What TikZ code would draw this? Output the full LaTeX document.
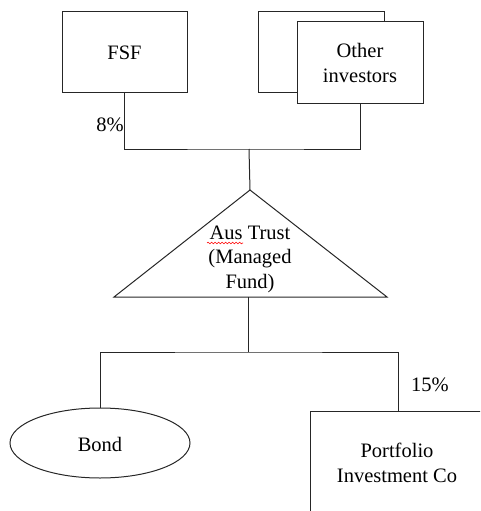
\documentclass[tikz,border=0pt]{standalone}
\usepackage{fontspec}
\setmainfont{Liberation Serif}
\usetikzlibrary{shapes.geometric,decorations.pathmorphing}
\tikzset{
  ln/.style={line width=1pt, draw=black!85},
  boxnode/.style={ln, fill=white, rectangle, inner sep=0pt},
  txt/.style={align=center, inner sep=0pt, font=\fontsize{20.5}{24.5}\selectfont},
}
\begin{document}
\begin{tikzpicture}[x=1pt,y=-1pt]
\useasboundingbox (0,0) rectangle (480,511);
\clip (0,0) rectangle (480,511);
% top boxes
\node[boxnode, minimum width=125pt, minimum height=80pt] (fsf) at (124.5,52) {};
\node[txt] (fsft) at (124.5,53) {FSF};
\node[boxnode, minimum width=126pt, minimum height=80pt] (oback) at (321,52) {};
\node[boxnode, minimum width=126pt, minimum height=81pt] (oth) at (360,62.5) {};
\node[txt] (otht) at (360,63) {Other\\investors};
% connectors top
\coordinate (j1) at (249,149);
\draw[ln] (fsf.south) |- (j1) -| (oth.south);
\node[txt, anchor=east] (p8) at (124,125) {8\%};
% triangle
\coordinate (apex) at (250,190);
\coordinate (bl) at (114,297);
\coordinate (br) at (387,297);
\draw[ln] (apex) -- (bl) -- (br) -- cycle;
\draw[ln] (j1) -- (apex);
\node[txt] (trust) at (250,259) {Aus Trust\\(Managed\\Fund)};
\draw[red, line width=0.6pt, decorate, decoration={snake, amplitude=0.8pt, segment length=3.5pt}] (207,243) -- (243,243);
% lower
\coordinate (bm) at (248,297);
\coordinate (j2) at (248,352);
\node[ln, ellipse, minimum width=180pt, minimum height=70pt, inner sep=0pt] (bond) at (100,443) {};
\node[txt] (bondt) at (100,444) {Bond};
\node[boxnode, anchor=north west, minimum width=200pt, minimum height=130pt] (port) at (310,411) {};
\node[txt] (portt) at (397,463) {Portfolio\\Investment Co};
\coordinate (pt) at (398,411);
\draw[ln] (bm) -- (j2);
\draw[ln] (bond.north) |- (j2) -| (pt);
\node[txt] (p15) at (430,385) {15\%};
\end{tikzpicture}
\end{document}
